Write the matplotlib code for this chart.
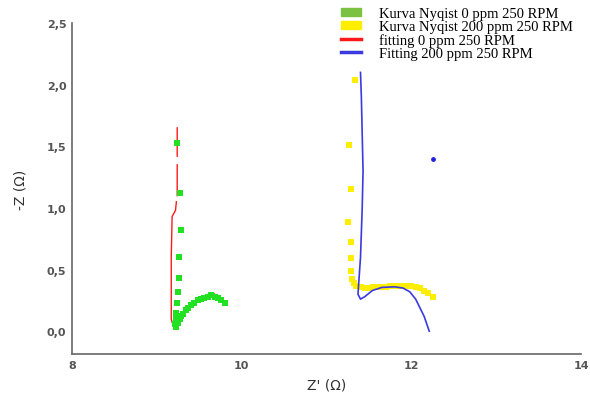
import numpy as np
import matplotlib.pyplot as plt
from matplotlib.ticker import FuncFormatter
from matplotlib.patches import Patch
from matplotlib.lines import Line2D

# Kurva Nyquist 0 ppm 250 RPM (green squares)
nyq0_x = [9.24, 9.27, 9.28, 9.26, 9.26, 9.25, 9.24, 9.23, 9.22, 9.21, 9.22, 9.23, 9.25, 9.27,
          9.29, 9.31, 9.34, 9.37, 9.40, 9.44, 9.48, 9.52, 9.56, 9.60, 9.64, 9.68, 9.72, 9.76, 9.80]
nyq0_y = [1.53, 1.12, 0.82, 0.60, 0.43, 0.32, 0.23, 0.15, 0.10, 0.06, 0.03, 0.04, 0.07, 0.10,
          0.12, 0.14, 0.17, 0.19, 0.21, 0.23, 0.25, 0.26, 0.27, 0.28, 0.29, 0.28, 0.27, 0.25, 0.23]

# Kurva Nyquist 200 ppm 250 RPM (yellow squares)
nyq200_x = [11.33, 11.27, 11.29, 11.25, 11.29, 11.29, 11.29, 11.30, 11.32, 11.35, 11.40, 11.45,
            11.50, 11.55, 11.60, 11.65, 11.70, 11.75, 11.80, 11.85, 11.90, 11.95, 12.00, 12.05,
            12.10, 12.15, 12.20, 12.25]
nyq200_y = [2.04, 1.51, 1.15, 0.89, 0.72, 0.59, 0.49, 0.42, 0.39, 0.37, 0.355, 0.35,
            0.35, 0.355, 0.355, 0.36, 0.36, 0.365, 0.37, 0.37, 0.37, 0.37, 0.365, 0.36,
            0.35, 0.33, 0.31, 0.28]

# fitting 0 ppm 250 RPM (red, broken line)
fit0_x = [9.24, 9.24, np.nan, 9.24, 9.24, np.nan, 9.23, 9.22, 9.18, 9.17, 9.17, 9.17, 9.18,
          9.22, 9.28, 9.34, 9.40, 9.45, 9.50, 9.56, 9.62, 9.66, 9.70]
fit0_y = [1.65, 1.42, np.nan, 1.35, 1.10, np.nan, 1.05, 0.98, 0.93, 0.60, 0.30, 0.10, 0.07,
          0.08, 0.12, 0.18, 0.22, 0.24, 0.26, 0.28, 0.30, 0.31, 0.29]

# Fitting 200 ppm 250 RPM (blue line)
fit200_x = [11.40, 11.41, 11.42, 11.43, 11.42, 11.40, 11.38, 11.37, 11.40, 11.45, 11.54, 11.65,
            11.80, 11.90, 11.98, 12.05, 12.10, 12.15, 12.18, 12.21]
fit200_y = [2.10, 1.90, 1.60, 1.30, 1.00, 0.60, 0.40, 0.30, 0.26, 0.28, 0.33, 0.355,
            0.36, 0.35, 0.32, 0.26, 0.19, 0.12, 0.06, 0.00]
fit200_dot_x = [12.25]
fit200_dot_y = [1.40]

x_ticks = [8, 10, 12, 14]
y_ticks = [0.0, 0.5, 1.0, 1.5, 2.0, 2.5]
legend_labels = ['Kurva Nyqist 0 ppm 250 RPM', 'Kurva Nyqist 200 ppm 250 RPM',
                 'fitting 0 ppm 250 RPM', 'Fitting 200 ppm 250 RPM']

fig = plt.figure(figsize=(5.9, 4.02), dpi=100)
ax = fig.add_axes([0.122, 0.117, 0.863, 0.823])

ax.plot(fit0_x, fit0_y, color='#ff1a1a', lw=1.0, zorder=2)
ax.scatter(nyq0_x, nyq0_y, marker='s', s=14, color='#22e022', lw=0, zorder=3)
ax.scatter(nyq200_x, nyq200_y, marker='s', s=14, color='#ffee00', lw=0, zorder=3)
ax.plot(fit200_x, fit200_y, color='#3a3ae0', lw=1.2, zorder=4)
ax.scatter(fit200_dot_x, fit200_dot_y, s=6, color='#2020e0', zorder=4)

handles = [Patch(color='#7cc242'), Patch(color='#ffee00'),
           Line2D([], [], color='#ff1a1a', lw=2.5), Line2D([], [], color='#3a3ae0', lw=2.5)]
ax.legend(handles, legend_labels, loc='upper right', bbox_to_anchor=(1.0, 1.075), frameon=False,
          prop={'family': 'Liberation Serif', 'size': 10.5}, handlelength=1.4, handleheight=0.5,
          labelspacing=0.0, borderpad=0.1, handletextpad=1.2)

ax.set_xlim(8, 14)
ax.set_ylim(-0.185, 2.5)
ax.set_xticks(x_ticks)
ax.set_yticks(y_ticks)
ax.yaxis.set_major_formatter(FuncFormatter(lambda v, p: f'{v:.1f}'.replace('.', ',')))
ax.tick_params(length=0, labelsize=8, labelcolor='#555555', pad=4)
for t in ax.get_xticklabels() + ax.get_yticklabels():
    t.set_fontweight('bold')

for s in ['top', 'right']:
    ax.spines[s].set_visible(False)
for s in ['left', 'bottom']:
    ax.spines[s].set_color('#666666')
    ax.spines[s].set_linewidth(1.2)

ax.set_xlabel("Z' (Ω)", fontsize=10, color='#333333', labelpad=6)
ax.set_ylabel('-Z (Ω)', fontsize=10, color='#333333', labelpad=14)

fig.savefig('out.png', dpi=100)
